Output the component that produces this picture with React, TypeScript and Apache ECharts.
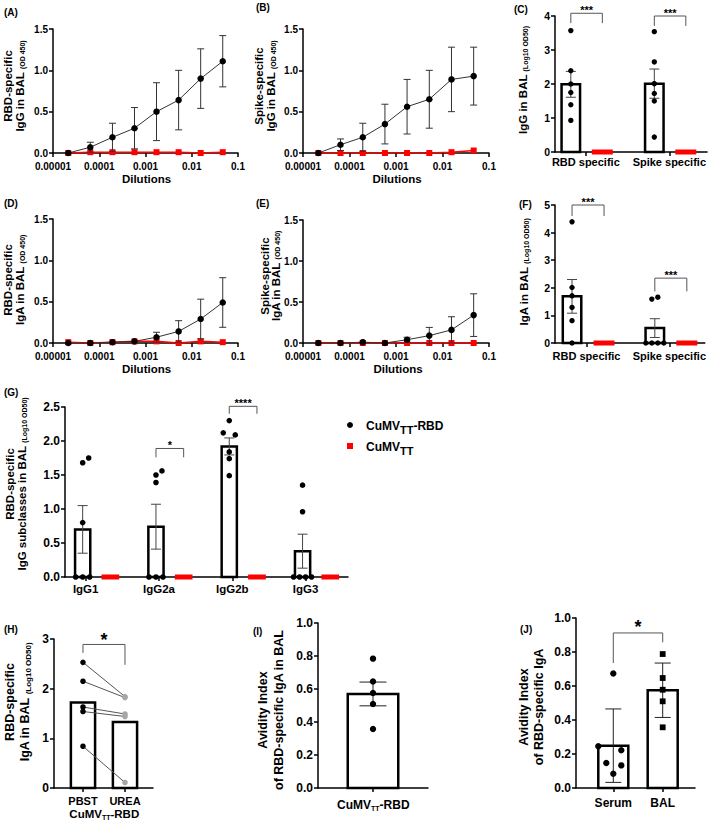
import React, { useEffect, useRef } from "react";
import * as echarts from "echarts";

// ---------------- DATA ----------------
// Panels A, B, D, E : OD450 vs dilution
const dilutions = [0.0000214, 0.000064, 0.000193, 0.000578, 0.00173, 0.0052, 0.0156, 0.0468];
const dilutionTickLabels = ["0.00001", "0.0001", "0.001", "0.01", "0.1"];

const rbdIgGVaccine = [0.0, 0.07, 0.19, 0.3, 0.5, 0.64, 0.9, 1.11];
const rbdIgGVaccineSem = [0, 0.06, 0.17, 0.25, 0.35, 0.36, 0.36, 0.31];
const rbdIgGControl = [0.0, 0.01, 0.01, 0.01, 0.01, 0.01, 0.0, 0.01];

const spikeIgGVaccine = [0.0, 0.1, 0.19, 0.35, 0.56, 0.65, 0.89, 0.93];
const spikeIgGVaccineSem = [0, 0.07, 0.17, 0.24, 0.33, 0.35, 0.39, 0.35];
const spikeIgGControl = [0, 0, 0, 0, 0, 0, 0.01, 0.03];

const rbdIgAVaccine = [0.0, 0.0, 0.01, 0.02, 0.07, 0.14, 0.29, 0.49];
const rbdIgAVaccineSem = [0, 0, 0, 0, 0.06, 0.13, 0.24, 0.3];
const rbdIgAControl = [0.01, 0.0, 0.01, 0.02, 0.02, 0.0, 0.02, 0.01];

const spikeIgAVaccine = [0.0, 0.0, 0.01, 0.0, 0.04, 0.09, 0.16, 0.34];
const spikeIgAVaccineSem = [0, 0, 0, 0, 0.03, 0.1, 0.16, 0.26];
const spikeIgAControl = [0, 0, 0, 0, 0, 0, 0, 0];

// Panel C : IgG in BAL (Log10 OD50)
const specificities = ["RBD specific", "Spike specific"];
const cVaccineMean = [1.99, 2.01];
const cVaccineSem = [0.38, 0.43];
const cVaccinePoints = [
  [3.57, 2.39, 2.0, 1.75, 1.39, 0.93],
  [3.54, 2.65, 2.01, 1.72, 1.5, 0.44],
];
const cControlMean = [0, 0];
const cSignificance = ["***", "***"];

// Panel F : IgA in BAL (Log10 OD50)
const fVaccineMean = [1.69, 0.54];
const fVaccineSem = [0.61, 0.34];
const fVaccinePoints = [
  [4.39, 2.01, 1.71, 1.29, 0.81, 0],
  [1.59, 1.66, 0, 0, 0, 0],
];
const fControlMean = [0, 0];
const fSignificance = ["***", "***"];

// Panel G : IgG subclasses
const subclasses = ["IgG1", "IgG2a", "IgG2b", "IgG3"];
const gVaccineMean = [0.7, 0.74, 1.92, 0.38];
const gVaccineSem = [0.35, 0.33, 0.125, 0.25];
const gVaccinePoints = [
  [1.68, 1.75, 0.8, 0, 0, 0],
  [1.5, 1.56, 1.39, 0, 0, 0],
  [2.3, 2.12, 2.09, 1.84, 1.74, 1.49],
  [1.35, 0.96, 0, 0, 0, 0],
];
const gControlMean = [0, 0, 0, 0];
const gSignificance = ["", "*", "****", ""];

// Panel H : PBST vs UREA
const treatments = ["PBST", "UREA"];
const hMean = [1.72, 1.33];
const hPbst = [2.53, 2.15, 1.63, 1.54, 0.84];
const hUrea = [1.84, 1.82, 1.49, 1.44, 0.11];
const hSignificance = "*";

// Panel I : avidity index in BAL
const iMean = 0.57;
const iSem = 0.072;
const iPoints = [0.784, 0.646, 0.576, 0.509, 0.358];

// Panel J : avidity index serum vs BAL
const samples = ["Serum", "BAL"];
const jMean = [0.249, 0.575];
const jSd = [0.216, 0.16];
const jSerumPoints = [0.673, 0.245, 0.222, 0.147, 0.133, 0.084];
const jBalPoints = [0.788, 0.647, 0.578, 0.51, 0.357];
const jSignificance = "*";

// ---------------- LAYOUT / STYLE ----------------
const FONT = "'Liberation Sans', Arial, Helvetica, sans-serif";
const RED = "#ff0000";
const ERR = "#444444";

// grid index: A0 B1 C2 D3 E4 F5 G6 H7 I8 J9
const GRIDS = [
  { left: 53, top: 29, width: 185, height: 124 },
  { left: 303, top: 29, width: 186, height: 124 },
  { left: 555, top: 16, width: 153, height: 136 },
  { left: 53, top: 219, width: 185, height: 124 },
  { left: 303, top: 220, width: 186, height: 123 },
  { left: 555, top: 205, width: 152, height: 138 },
  { left: 65, top: 407, width: 283, height: 170 },
  { left: 54, top: 639, width: 99, height: 149 },
  { left: 318, top: 623, width: 110, height: 165 },
  { left: 576, top: 618, width: 119, height: 170 },
];

const axisLine = { show: true, onZero: false, lineStyle: { color: "#000", width: 1.5 } };
const axisTick = { show: true, inside: false, length: 4, lineStyle: { color: "#000", width: 1.5 } };

function logX(gi: number) {
  return {
    type: "log",
    logBase: 10,
    gridIndex: gi,
    min: 0.00001,
    max: 0.1,
    axisLine,
    axisTick,
    minorTick: { show: false },
    splitLine: { show: false },
    axisLabel: {
      color: "#000",
      fontWeight: "bold",
      fontSize: 10,
      fontFamily: FONT,
      margin: 8,
      showMinLabel: true,
      showMaxLabel: true,
      formatter: (v: number) => dilutionTickLabels[Math.round(Math.log10(v)) + 5] ?? "",
    },
  };
}

function valX(gi: number, min: number, max: number, labels: string[], fs: number, margin: number) {
  const values = labels.map((_, i) => i + 1);
  return {
    type: "value",
    gridIndex: gi,
    min,
    max,
    axisLine,
    axisTick: { ...axisTick, customValues: values },
    splitLine: { show: false },
    axisLabel: {
      customValues: values,
      color: "#000",
      fontWeight: "bold",
      fontSize: fs,
      fontFamily: FONT,
      margin,
      formatter: (v: number) => labels[Math.round(v) - 1] ?? "",
    },
  };
}

function valY(gi: number, min: number, max: number, interval: number, digits: number, fs: number) {
  return {
    type: "value",
    gridIndex: gi,
    min,
    max,
    interval,
    axisLine,
    axisTick,
    splitLine: { show: false },
    axisLabel: {
      color: "#000",
      fontWeight: "bold",
      fontSize: fs,
      fontFamily: FONT,
      margin: 5,
      formatter: (v: number) => v.toFixed(digits),
    },
  };
}

// ---------------- drawing helpers ----------------
function custom(gi: number, items: any[], draw: (it: any, api: any) => any, z = 2) {
  return {
    type: "custom",
    xAxisIndex: gi,
    yAxisIndex: gi,
    clip: false,
    silent: true,
    z,
    data: items.map((it) => [it.x, it.y]),
    renderItem: (params: any, api: any) => draw(items[params.dataIndex], api),
  };
}

const drawOpenBar = (it: any, api: any) => {
  const b = api.coord([it.x, 0]);
  const t = api.coord([it.x, it.y]);
  const lw = 2.5;
  const cx = b[0] + it.dx;
  return {
    type: "rect",
    shape: { x: cx - it.w / 2 + lw / 2, y: t[1], width: it.w - lw, height: b[1] - t[1] },
    style: { fill: "#fff", stroke: "#000", lineWidth: lw },
  };
};

const drawRedBar = (it: any, api: any) => {
  const b = api.coord([it.x, 0]);
  const t = api.coord([it.x, it.y]);
  const cx = b[0] + it.dx;
  const h = b[1] - t[1];
  return {
    type: "rect",
    shape: { x: cx - it.w / 2, y: t[1] - 2.5, width: it.w, height: h + 5 },
    style: { fill: RED },
  };
};

const drawErr = (it: any, api: any) => {
  if (!it.e) return null;
  const c = api.coord([it.x, it.y]);
  const hi = api.coord([it.x, it.y + it.e]);
  const lo = api.coord([it.x, it.y - it.e]);
  const cx = c[0] + (it.dx || 0);
  const st = { stroke: it.color || ERR, lineWidth: 1 };
  const h = it.cap / 2;
  return {
    type: "group",
    children: [
      { type: "line", shape: { x1: cx, y1: hi[1], x2: cx, y2: lo[1] }, style: st },
      { type: "line", shape: { x1: cx - h, y1: hi[1], x2: cx + h, y2: hi[1] }, style: st },
      { type: "line", shape: { x1: cx - h, y1: lo[1], x2: cx + h, y2: lo[1] }, style: st },
    ],
  };
};

const drawDot = (it: any, api: any) => {
  const c = api.coord([it.x, it.y]);
  const cx = c[0] + (it.dx || 0);
  if (it.shape === "square") {
    return {
      type: "rect",
      shape: { x: cx - it.r, y: c[1] - it.r, width: it.r * 2, height: it.r * 2 },
      style: { fill: it.color },
    };
  }
  return { type: "circle", shape: { cx, cy: c[1], r: it.r }, style: { fill: it.color } };
};

const drawBracket = (it: any, api: any) => {
  const p1 = api.coord([it.x1, it.top]);
  const p2 = api.coord([it.x2, it.top]);
  const a = api.coord([it.x1, it.l1]);
  const b = api.coord([it.x2, it.l2]);
  const x1 = p1[0] + it.dx1;
  const x2 = p2[0] + it.dx2;
  return {
    type: "group",
    children: [
      {
        type: "polyline",
        shape: { points: [[x1, a[1]], [x1, p1[1]], [x2, p2[1]], [x2, b[1]]] },
        style: { fill: "none", stroke: "#555", lineWidth: 1 },
      },
      {
        type: "text",
        x: (x1 + x2) / 2,
        y: p1[1] - it.off,
        style: {
          text: it.text,
          fontSize: it.fs,
          fontWeight: "bold",
          fontFamily: FONT,
          fill: "#000",
          align: "center",
          verticalAlign: "middle",
        },
      },
    ],
  };
};

const drawPair = (it: any, api: any) => {
  const a = api.coord([it.x, it.y]);
  const b = api.coord([it.x2, it.y2]);
  return {
    type: "line",
    shape: { x1: a[0], y1: a[1], x2: b[0], y2: b[1] },
    style: { stroke: "#555", lineWidth: 1 },
  };
};

function linePanel(gi: number, vac: number[], sem: number[], ctrl: number[]) {
  return [
    {
      type: "line",
      xAxisIndex: gi,
      yAxisIndex: gi,
      silent: true,
      z: 3,
      data: dilutions.map((d, i) => [d, ctrl[i]]),
      symbol: "rect",
      symbolSize: 6,
      itemStyle: { color: RED },
      lineStyle: { color: RED, width: 1.5 },
    },
    custom(
      gi,
      dilutions.map((d, i) => ({ x: d, y: vac[i], e: sem[i], cap: 7, color: "#333" })),
      drawErr,
      4
    ),
    {
      type: "line",
      xAxisIndex: gi,
      yAxisIndex: gi,
      silent: true,
      z: 5,
      data: dilutions.map((d, i) => [d, vac[i]]),
      symbol: "circle",
      symbolSize: 6.5,
      itemStyle: { color: "#000" },
      lineStyle: { color: "#333", width: 1 },
    },
  ];
}

type BarLayout = { dxV: number; dxC: number; w: number; cap: number; r: number; jitter: number[][] };

function barPanel(
  gi: number,
  mean: number[],
  sem: number[],
  points: number[][],
  ctrl: number[],
  L: BarLayout
) {
  const pos = mean.map((_, i) => i + 1);
  const dots: any[] = [];
  points.forEach((arr, g) =>
    arr.forEach((v, k) =>
      dots.push({ x: pos[g], y: v, dx: L.dxV + (L.jitter[g]?.[k] ?? 0), r: L.r, color: "#000" })
    )
  );
  return [
    custom(gi, pos.map((p, i) => ({ x: p, y: mean[i], dx: L.dxV, w: L.w })), drawOpenBar, 2),
    custom(gi, pos.map((p, i) => ({ x: p, y: ctrl[i], dx: L.dxC, w: L.w })), drawRedBar, 3),
    custom(gi, pos.map((p, i) => ({ x: p, y: mean[i], e: sem[i], dx: L.dxV, cap: L.cap })), drawErr, 4),
    custom(gi, dots, drawDot, 5),
  ];
}

// ---------------- graphic texts ----------------
function label(x: number, y: number, text: string, fs = 10, align = "left", rich?: any) {
  return {
    type: "text",
    x,
    y,
    silent: true,
    style: {
      text,
      fill: "#000",
      fontSize: fs,
      fontWeight: "bold",
      fontFamily: FONT,
      align,
      verticalAlign: "middle",
      rich,
    },
  };
}

function yTitle(x: number, y: number, lines: string[], fs: number, subFs: number, lh: number) {
  return {
    type: "text",
    x,
    y,
    rotation: Math.PI / 2,
    silent: true,
    style: {
      text: lines.join("\n"),
      align: "center",
      verticalAlign: "middle",
      fill: "#000",
      fontFamily: FONT,
      fontWeight: "bold",
      fontSize: fs,
      lineHeight: lh,
      rich: {
        m: { fontSize: fs, fontWeight: "bold", fontFamily: FONT, fill: "#000", lineHeight: lh },
        s: {
          fontSize: subFs,
          fontWeight: "bold",
          fontFamily: FONT,
          fill: "#000",
          lineHeight: subFs + 1,
          verticalAlign: "bottom",
        },
      },
    },
  };
}

function subRich(fs: number, subFs: number, lh: number) {
  return {
    m: { fontSize: fs, fontWeight: "bold", fontFamily: FONT, fill: "#000", lineHeight: lh },
    s: { fontSize: subFs, fontWeight: "bold", fontFamily: FONT, fill: "#000", lineHeight: subFs, verticalAlign: "bottom" },
  };
}

function buildOption() {
  const xAxis = [
    logX(0),
    logX(1),
    valX(2, 0.631, 2.452, specificities, 11, 4),
    logX(3),
    logX(4),
    valX(5, 0.619, 2.429, specificities, 11, 7),
    valX(6, 0.718, 4.579, subclasses, 11.5, 6),
    valX(7, 0.31, 2.667, treatments, 11, 7),
    valX(8, 0.45, 1.55, [""], 12, 7),
    valX(9, 0.245, 2.654, samples, 12, 9),
  ];
  const yAxis = [
    valY(0, 0, 1.5, 0.5, 1, 10),
    valY(1, 0, 1.5, 0.5, 1, 10),
    valY(2, 0, 4, 1, 0, 10.5),
    valY(3, 0, 1.5, 0.5, 1, 10),
    valY(4, 0, 1.5, 0.5, 1, 10),
    valY(5, 0, 5, 1, 0, 10.5),
    valY(6, 0, 2.5, 0.5, 1, 12),
    valY(7, 0, 3, 1, 0, 12),
    valY(8, 0, 1, 0.2, 1, 12),
    valY(9, 0, 1, 0.2, 1, 12),
  ];

  const series: any[] = [];
  series.push(...linePanel(0, rbdIgGVaccine, rbdIgGVaccineSem, rbdIgGControl));
  series.push(...linePanel(1, spikeIgGVaccine, spikeIgGVaccineSem, spikeIgGControl));
  series.push(...linePanel(3, rbdIgAVaccine, rbdIgAVaccineSem, rbdIgAControl));
  series.push(...linePanel(4, spikeIgAVaccine, spikeIgAVaccineSem, spikeIgAControl));

  // C
  series.push(
    ...barPanel(2, cVaccineMean, cVaccineSem, cVaccinePoints, cControlMean, {
      dxV: -15,
      dxC: 16.5,
      w: 21,
      cap: 10,
      r: 2.7,
      jitter: [],
    })
  );
  series.push(
    custom(
      2,
      [
        { x: 1, y: 4.08, x1: 1, x2: 1, dx1: -15, dx2: 16.5, top: 4.08, l1: 3.79, l2: 3.79, text: cSignificance[0], fs: 11, off: 3 },
        { x: 2, y: 4.0, x1: 2, x2: 2, dx1: -15, dx2: 16.5, top: 4.0, l1: 3.71, l2: 3.71, text: cSignificance[1], fs: 11, off: 3 },
      ],
      drawBracket,
      6
    )
  );

  // F
  series.push(
    ...barPanel(5, fVaccineMean, fVaccineSem, fVaccinePoints, fControlMean, {
      dxV: -14.5,
      dxC: 17.5,
      w: 21,
      cap: 10,
      r: 2.7,
      jitter: [
        [0, 0, 0, 0, 0, 0],
        [-3, 3, -9, -3, 3, 9],
      ],
    })
  );
  series.push(
    custom(
      5,
      [
        { x: 1, y: 5, x1: 1, x2: 1, dx1: -14.5, dx2: 17.5, top: 5.0, l1: 4.6, l2: 4.6, text: fSignificance[0], fs: 11, off: 3 },
        { x: 2, y: 2.35, x1: 2, x2: 2, dx1: -14.5, dx2: 17.5, top: 2.35, l1: 1.87, l2: 1.87, text: fSignificance[1], fs: 11, off: 3 },
      ],
      drawBracket,
      6
    )
  );

  // G
  series.push(
    ...barPanel(6, gVaccineMean, gVaccineSem, gVaccinePoints, gControlMean, {
      dxV: -3,
      dxC: 24.7,
      w: 17.7,
      cap: 10,
      r: 2.8,
      jitter: [
        [0, 6, 0, -7, 0, 7],
        [0, 6, 0, -7, 0, 7],
        [0, -6, 6, 0, 0, 0],
        [0, 0, -9, -3, 3, 9],
      ],
    })
  );
  series.push(
    custom(
      6,
      [
        { x: 2, y: 1.89, x1: 2, x2: 2, dx1: -3, dx2: 24.7, top: 1.89, l1: 1.76, l2: 1.76, text: gSignificance[1], fs: 11, off: 3 },
        { x: 3, y: 2.51, x1: 3, x2: 3, dx1: -3, dx2: 24.7, top: 2.51, l1: 2.4, l2: 2.4, text: gSignificance[2], fs: 11, off: 3 },
      ],
      drawBracket,
      6
    )
  );

  // H
  series.push(custom(7, hMean.map((m, i) => ({ x: i + 1, y: m, dx: 0, w: 26.7 })), drawOpenBar, 2));
  series.push(custom(7, hPbst.map((v, i) => ({ x: 1, y: v, x2: 2, y2: hUrea[i] })), drawPair, 4));
  series.push(custom(7, hPbst.map((v) => ({ x: 1, y: v, r: 2.8, color: "#000" })), drawDot, 5));
  series.push(custom(7, hUrea.map((v) => ({ x: 2, y: v, r: 2.8, color: "#a6a6a6" })), drawDot, 5));
  series.push(
    custom(
      7,
      [{ x: 1, y: 2.89, x1: 1, x2: 2, dx1: 0, dx2: 0, top: 2.89, l1: 2.72, l2: 2.48, text: hSignificance, fs: 18, off: 4 }],
      drawBracket,
      6
    )
  );

  // I
  series.push(custom(8, [{ x: 1, y: iMean, dx: 0, w: 53 }], drawOpenBar, 2));
  series.push(custom(8, [{ x: 1, y: iMean, e: iSem, dx: 0, cap: 27, color: "#222" }], drawErr, 4));
  series.push(custom(8, iPoints.map((v) => ({ x: 1, y: v, r: 3.2, color: "#000" })), drawDot, 5));

  // J
  series.push(custom(9, jMean.map((m, i) => ({ x: i + 1, y: m, dx: 0, w: 32.5 })), drawOpenBar, 2));
  series.push(custom(9, jMean.map((m, i) => ({ x: i + 1, y: m, e: jSd[i], dx: 0, cap: 16, color: "#222" })), drawErr, 4));
  const serumJitter = [0, -15, 8, -7, 8, 0];
  series.push(
    custom(9, jSerumPoints.map((v, k) => ({ x: 1, y: v, dx: serumJitter[k], r: 3.2, color: "#000" })), drawDot, 5)
  );
  series.push(
    custom(9, jBalPoints.map((v) => ({ x: 2, y: v, r: 2.9, shape: "square", color: "#000" })), drawDot, 5)
  );
  series.push(
    custom(
      9,
      [{ x: 1, y: 0.912, x1: 1, x2: 2, dx1: 0, dx2: 0, top: 0.912, l1: 0.735, l2: 0.857, text: jSignificance, fs: 18, off: 6 }],
      drawBracket,
      6
    )
  );

  const richTT = subRich(12, 11, 18);
  const graphic: any[] = [
    // panel letters
    label(4, 12, "(A)"),
    label(256, 7, "(B)"),
    label(514, 9, "(C)"),
    label(4, 203, "(D)"),
    label(256, 203, "(E)"),
    label(519, 204, "(F)"),
    label(4, 392, "(G)"),
    label(4, 629, "(H)"),
    label(253, 631, "(I)"),
    label(520, 629, "(J)"),
    // x titles
    label(146.5, 179, "Dilutions", 11.5, "center"),
    label(397, 179, "Dilutions", 11.5, "center"),
    label(146.5, 369, "Dilutions", 11.5, "center"),
    label(398, 369, "Dilutions", 11.5, "center"),
    // y titles
    yTitle(14, 86, ["{m|RBD-specific}", "{m|IgG in BAL }{s|(OD 450)}"], 11.5, 7, 12),
    yTitle(265, 86, ["{m|Spike-specific}", "{m|IgG in BAL }{s|(OD 450)}"], 11.5, 7, 12),
    yTitle(523, 80, ["{m|IgG in BAL }{s|(Log10 OD50)}"], 11.5, 7, 12),
    yTitle(14, 280, ["{m|RBD-specific}", "{m|IgA in BAL }{s|(OD 450)}"], 11.5, 7, 12),
    yTitle(270, 276, ["{m|Spike-specific}", "{m|IgA in BAL }{s|(OD 450)}"], 11.5, 7, 11),
    yTitle(524, 272, ["{m|IgA in BAL }{s|(Log10 OD50)}"], 11.5, 7, 12),
    yTitle(16, 484, ["{m|RBD-specific}", "{m|IgG subclasses in BAL }{s|(Log10 OD50)}"], 11.5, 7, 12),
    yTitle(17.5, 702, ["{m|RBD-specific}", "{m|IgA in BAL }{s|(Log10 OD50)}"], 12.5, 8, 15),
    yTitle(271, 710, ["{m|Avidity Index}", "{m|of RBD-specific IgA in BAL}"], 12.5, 8, 16),
    yTitle(531, 707, ["{m|Avidity Index}", "{m|of RBD-specific IgA}"], 12.5, 8, 15),
    // x sub labels
    label(104.3, 814, "{m|CuMV}{s|TT}{m|-RBD}", 11, "center", subRich(11.5, 7, 13)),
    label(373.3, 805, "{m|CuMV}{s|TT}{m|-RBD}", 12, "center", subRich(12, 7, 14)),
    // legend
    { type: "circle", silent: true, shape: { cx: 350, cy: 425, r: 3 }, style: { fill: "#000" } },
    label(366, 426, "{m|CuMV}{s|TT}{m|-RBD}", 12, "left", richTT),
    { type: "rect", silent: true, shape: { x: 347, y: 443, width: 6, height: 6 }, style: { fill: RED } },
    label(366, 447, "{m|CuMV}{s|TT}", 12, "left", richTT),
  ];

  return {
    animation: false,
    backgroundColor: "#fff",
    textStyle: { fontFamily: FONT },
    grid: GRIDS.map((g) => ({ ...g, containLabel: false })),
    xAxis,
    yAxis,
    series,
    graphic,
  };
}

export default function App() {
  const ref = useRef<HTMLDivElement>(null);
  useEffect(() => {
    if (!ref.current) return;
    const chart = echarts.init(ref.current, undefined, { renderer: "svg" });
    chart.setOption(buildOption() as any);
    return () => chart.dispose();
  }, []);
  return (
    <div
      ref={ref}
      style={{ position: "absolute", left: 0, top: 0, width: 709, height: 827, background: "#fff" }}
    />
  );
}
